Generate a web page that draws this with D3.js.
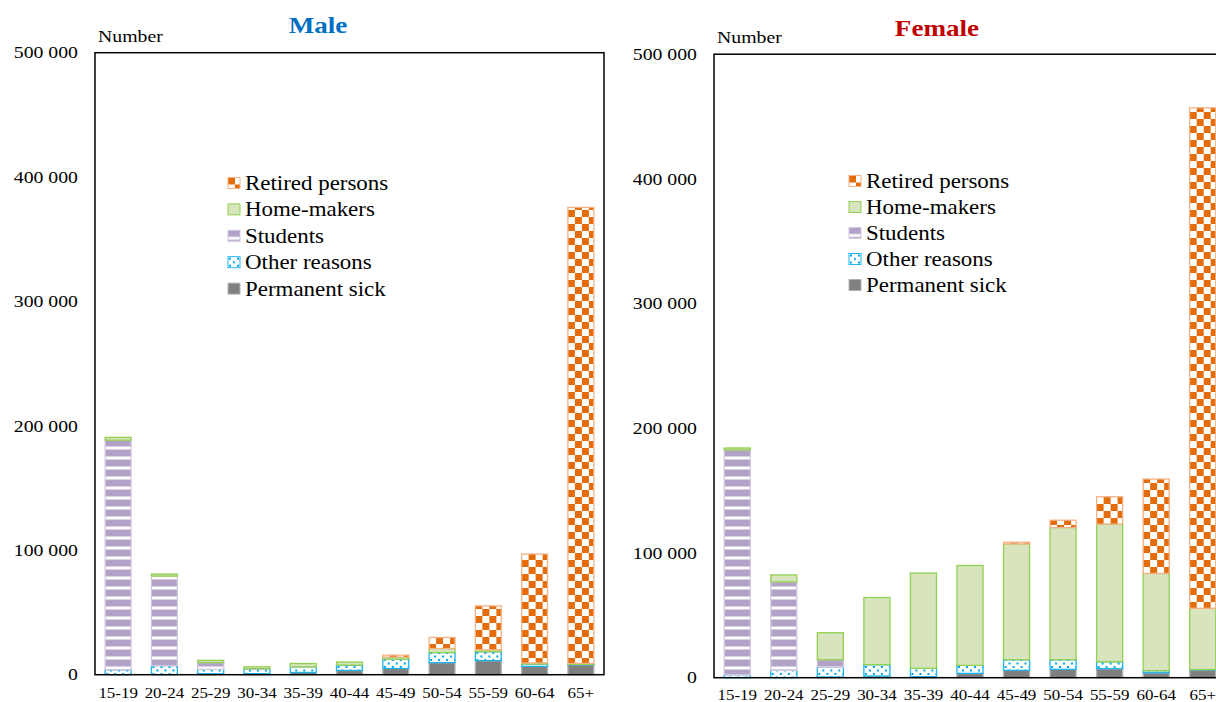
<!DOCTYPE html>
<html>
<head>
<meta charset="utf-8">
<script src="https://cdn.jsdelivr.net/npm/d3@7"></script>
<style>
  body { margin: 0; background: #fff; }
  svg { display: block; }
  text { font-family: "Liberation Serif", "Times New Roman", serif; fill: #000; }
</style>
</head>
<body>
<svg id="chart" width="1216" height="702"></svg>
<script>
// Age groups on the x axis
const ageGroups = ["15-19", "20-24", "25-29", "30-34", "35-39", "40-44", "45-49", "50-54", "55-59", "60-64", "65+"];
const yTicks = [0, 100000, 200000, 300000, 400000, 500000];

// Stack order, bottom to top
const seriesKeys = ["sick", "other", "students", "home", "retired"];
const seriesNames = { sick: "Permanent sick", other: "Other reasons", students: "Students", home: "Home-makers", retired: "Retired persons" };
const legendOrder = ["retired", "home", "students", "other", "sick"];

// Men not in the labour force, by main reason
const maleSick     = [0, 0, 700, 800, 1800, 3400, 5000, 9700, 11300, 6700, 8000];
const maleOther    = [4000, 7300, 3600, 3700, 4300, 4300, 7500, 8100, 7200, 1900, 300];
const maleStudents = [184500, 72000, 5400, 300, 200, 0, 0, 0, 0, 0, 0];
const maleHome     = [2300, 1600, 1800, 1500, 2700, 2500, 1600, 3200, 1600, 800, 800];
const maleRetired  = [0, 0, 0, 0, 0, 0, 1600, 8900, 35200, 87600, 366500];

// Women not in the labour force, by main reason
const femaleSick     = [0, 0, 500, 1300, 800, 3500, 5900, 6700, 7200, 4000, 6200];
const femaleOther    = [2400, 5900, 8000, 9100, 6700, 6400, 8500, 7700, 5600, 1600, 300];
const femaleStudents = [180200, 70900, 5900, 0, 0, 0, 0, 0, 0, 0, 0];
const femaleHome     = [1600, 5600, 21700, 53900, 76400, 80100, 92900, 106000, 110400, 78000, 49200];
const femaleRetired  = [0, 0, 0, 0, 0, 0, 1300, 5900, 21900, 75700, 401300];

function rows(sick, other, students, home, retired) {
  return ageGroups.map((g, i) => ({
    group: g, sick: sick[i], other: other[i], students: students[i], home: home[i], retired: retired[i]
  }));
}

const svg = d3.select("#chart");
const defs = svg.append("defs");

// Fill patterns and outline colours for each reason
const strokeColor = { sick: "#b4b4b4", other: "#1fb4ee", students: "#d2c8e0", home: "#92d050", retired: "#f4b183" };

const pSick = defs.append("pattern").attr("id", "pat-sick").attr("patternUnits", "userSpaceOnUse")
  .attr("width", 8).attr("height", 8);
pSick.append("rect").attr("width", 8).attr("height", 8).attr("fill", "#808080");

const pOther = defs.append("pattern").attr("id", "pat-other").attr("patternUnits", "userSpaceOnUse")
  .attr("width", 8).attr("height", 7);
pOther.append("rect").attr("width", 8).attr("height", 7).attr("fill", "#ffffff");
pOther.append("rect").attr("x", 1).attr("y", 1).attr("width", 2).attr("height", 2).attr("fill", "#00a8ec");
pOther.append("rect").attr("x", 5).attr("y", 4.5).attr("width", 2).attr("height", 2).attr("fill", "#00a8ec");

const pStud = defs.append("pattern").attr("id", "pat-students").attr("patternUnits", "userSpaceOnUse")
  .attr("width", 10).attr("height", 10);
pStud.append("rect").attr("width", 10).attr("height", 10).attr("fill", "#b3a2c7");
pStud.append("rect").attr("y", 6.5).attr("width", 10).attr("height", 3).attr("fill", "#ffffff");

const pHome = defs.append("pattern").attr("id", "pat-home").attr("patternUnits", "userSpaceOnUse")
  .attr("width", 8).attr("height", 8);
pHome.append("rect").attr("width", 8).attr("height", 8).attr("fill", "#d7e4bd");

const pRet = defs.append("pattern").attr("id", "pat-retired").attr("patternUnits", "userSpaceOnUse")
  .attr("width", 14).attr("height", 14);
pRet.append("rect").attr("width", 14).attr("height", 14).attr("fill", "#ffffff");
pRet.append("rect").attr("width", 7).attr("height", 7).attr("fill", "#e46c0a");
pRet.append("rect").attr("x", 7).attr("y", 7).attr("width", 7).attr("height", 7).attr("fill", "#e46c0a");

const fillFor = k => `url(#pat-${k})`;

// Text in this chart is set slightly wide
const SX = 1.13;
function wideText(parent, x, y, str, anchor) {
  return parent.append("text")
    .attr("transform", `translate(${x},${y}) scale(${SX},1)`)
    .attr("text-anchor", anchor || "start")
    .attr("font-family", "Liberation Serif, serif")
    .text(str);
}

const fmt = v => d3.format(",")(v).replace(/,/g, " ");
const stack = d3.stack().keys(seriesKeys);

function drawPanel(cfg) {
  const g = svg.append("g");
  const data = rows(...cfg.values);

  const x = d3.scaleBand().domain(ageGroups)
    .range([cfg.left, cfg.right]).paddingInner(0.44).paddingOuter(0.22);
  const y = d3.scaleLinear().domain([0, 500000]).range([cfg.bottom, cfg.top]);

  // y tick labels (no tick marks)
  yTicks.forEach(t => {
    wideText(g, cfg.tickRight, y(t) + 5.6, fmt(t), "end").style("font-size", "17.5px");
  });

  // stacked bars; each bar lives in its own group so patterns start at the bar's left edge
  const layers = stack(data);
  ageGroups.forEach((grp, i) => {
    const bg = g.append("g").attr("transform", `translate(${x(grp)},0)`);
    layers.forEach(layer => {
      const d = layer[i];
      const h = y(d[0]) - y(d[1]);
      if (h <= 0) return;
      bg.append("rect")
        .attr("x", 0)
        .attr("y", y(d[1]))
        .attr("width", x.bandwidth())
        .attr("height", h)
        .attr("fill", fillFor(layer.key))
        .attr("stroke", strokeColor[layer.key])
        .attr("stroke-width", 1.3);
    });
  });

  // frame
  g.append("rect")
    .attr("x", cfg.left).attr("y", cfg.top)
    .attr("width", cfg.right - cfg.left).attr("height", cfg.bottom - cfg.top)
    .attr("fill", "none").attr("stroke", "#000").attr("stroke-width", 1.5);

  // x labels
  ageGroups.forEach(grp => {
    wideText(g, x(grp) + x.bandwidth() / 2, cfg.xLabelY, grp, "middle").style("font-size", "15px");
  });

  // unit label and title
  wideText(g, cfg.left + 3, cfg.top - 11, "Number").style("font-size", "17.5px");
  wideText(g, cfg.titleX, cfg.titleY, cfg.title, "middle")
    .style("font-size", "24px").style("font-weight", "bold").style("fill", cfg.titleColor);

  // legend
  legendOrder.forEach((k, i) => {
    const cy = cfg.legendY + i * cfg.legendStep;
    const sw = g.append("g").attr("transform", `translate(${cfg.legendX},${cy - 5.5})`);
    sw.append("rect").attr("width", 12).attr("height", 11)
      .attr("fill", fillFor(k)).attr("stroke", strokeColor[k]).attr("stroke-width", 1);
    wideText(g, cfg.legendX + 17, cy + 7, seriesNames[k]).style("font-size", "20.3px");
  });
}

drawPanel({
  values: [maleSick, maleOther, maleStudents, maleHome, maleRetired],
  left: 95, right: 604, top: 52.7, bottom: 674.7,
  tickRight: 78, xLabelY: 698,
  title: "Male", titleColor: "#0070c0", titleX: 318, titleY: 33,
  legendX: 228, legendY: 183, legendStep: 26.4
});

drawPanel({
  values: [femaleSick, femaleOther, femaleStudents, femaleHome, femaleRetired],
  left: 714, right: 1226, top: 54.2, bottom: 677.7,
  tickRight: 697, xLabelY: 700,
  title: "Female", titleColor: "#c00000", titleX: 937, titleY: 36,
  legendX: 849, legendY: 181, legendStep: 26
});
</script>
</body>
</html>
